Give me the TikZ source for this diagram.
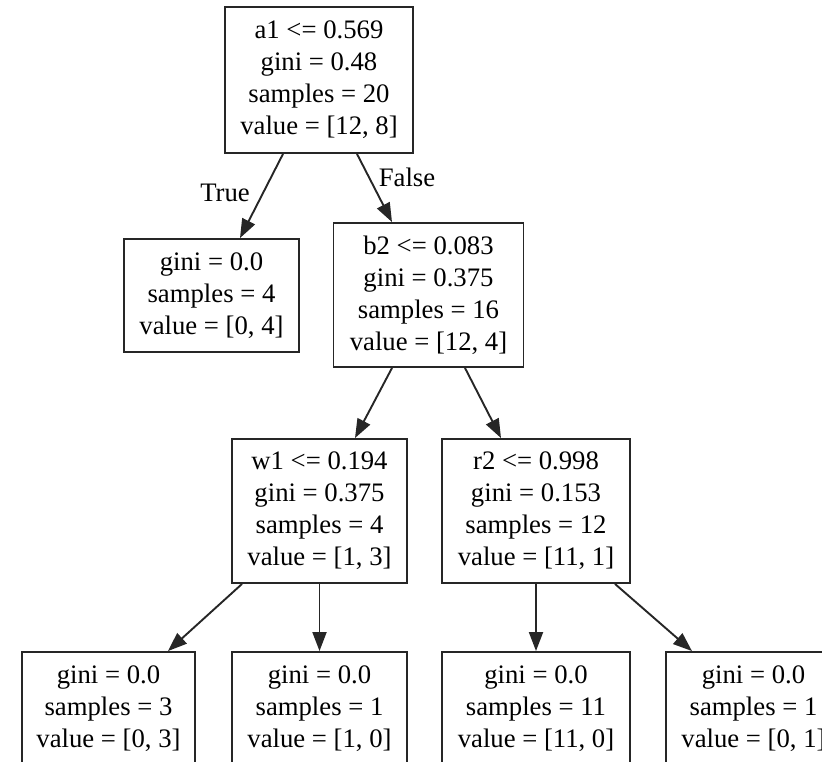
\documentclass[tikz,border=0pt]{standalone}
\usepackage{fontspec}
\setmainfont{Liberation Serif}
\usetikzlibrary{arrows.meta}
\begin{document}
\begin{tikzpicture}[x=1pt,y=-1pt,
  treenode/.style={draw=black!85,line width=1.9pt,inner sep=0pt,align=center,
    font=\fontsize{26.7}{32}\selectfont},
  split/.style={treenode,minimum height=145pt},
  leaf/.style={treenode,minimum height=114pt},
  edgelabel/.style={inner sep=0pt,font=\fontsize{26.7}{32}\selectfont},
  link/.style={draw=black!85,line width=1.9pt,-{Triangle[length=19pt,width=14pt]}}]
\useasboundingbox (0,0) rectangle (822,762);
\clip (0,0) rectangle (822,762);

% split nodes
\node[split,minimum width=188pt,minimum height=146pt] (root) at (319,80)
  {a1 <= 0.569\\gini = 0.48\\samples = 20\\value = [12, 8]};
\node[split,minimum width=190pt,minimum height=144pt] (b2) at (428.5,295)
  {b2 <= 0.083\\gini = 0.375\\samples = 16\\value = [12, 4]};
\node[split,minimum width=175pt,minimum height=144pt] (w1) at (319.5,511)
  {w1 <= 0.194\\gini = 0.375\\samples = 4\\value = [1, 3]};
\node[split,minimum width=188pt,minimum height=144pt] (r2) at (536,511)
  {r2 <= 0.998\\gini = 0.153\\samples = 12\\value = [11, 1]};

% leaves
\node[leaf,minimum width=175pt,minimum height=113pt] (leafA) at (211.5,295.5)
  {gini = 0.0\\samples = 4\\value = [0, 4]};
\node[leaf,minimum width=173pt] (leafB) at (108.5,709)
  {gini = 0.0\\samples = 3\\value = [0, 3]};
\node[leaf,minimum width=175pt] (leafC) at (319.5,709)
  {gini = 0.0\\samples = 1\\value = [1, 0]};
\node[leaf,minimum width=188pt] (leafD) at (536,709)
  {gini = 0.0\\samples = 11\\value = [11, 0]};
\node[leaf,minimum width=175pt] (leafE) at (753.5,709)
  {gini = 0.0\\samples = 1\\value = [0, 1]};

% edges
\draw[link] ([xshift=-36pt]root.south) -- ([xshift=28.5pt]leafA.north);
\draw[link] ([xshift=38pt]root.south) -- ([xshift=-36.5pt]b2.north);
\draw[link] ([xshift=-36.5pt]b2.south) -- ([xshift=35.5pt]w1.north);
\draw[link] ([xshift=36.5pt]b2.south) -- ([xshift=-35pt]r2.north);
\draw[link] ([xshift=-77.5pt]w1.south) -- ([xshift=59.5pt]leafB.north);
\draw[link] (w1.south) -- (leafC.north);
\draw[link] (r2.south) -- (leafD.north);
\draw[link] ([xshift=79pt]r2.south) -- ([xshift=-61.5pt]leafE.north);

% edge labels
\node[edgelabel] (lblTrue) at (225,193) {True};
\node[edgelabel] (lblFalse) at (407,177) {False};
\end{tikzpicture}
\end{document}
